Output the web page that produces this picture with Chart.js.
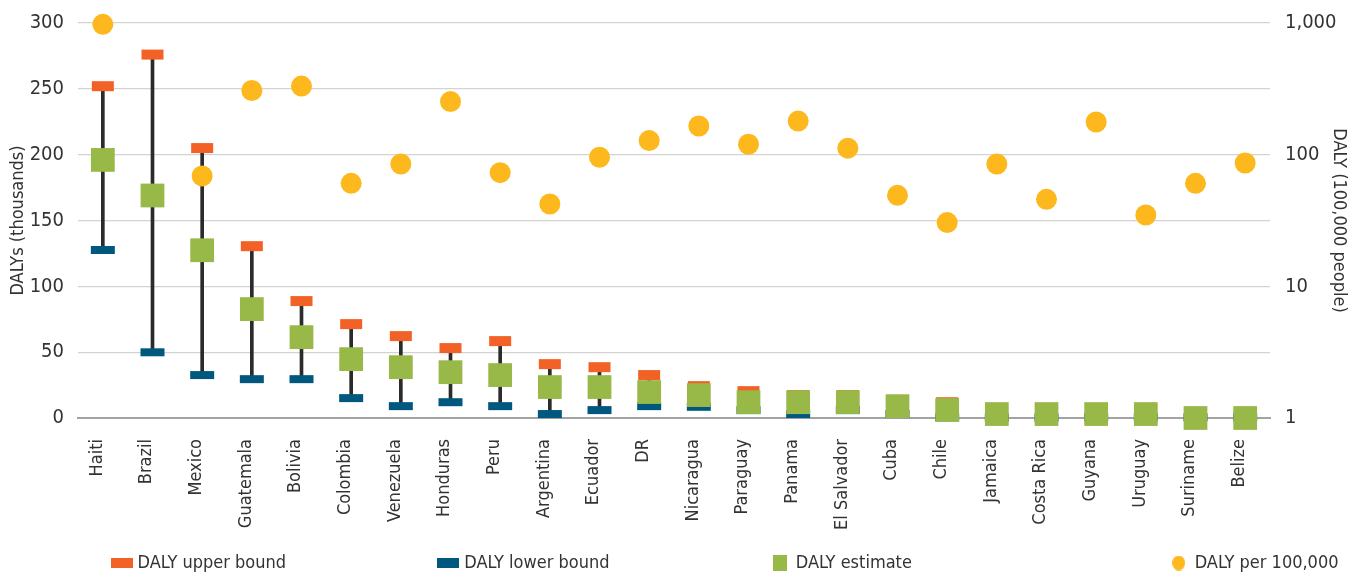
<!DOCTYPE html>
<html>
<head>
<meta charset="utf-8">
<script src="https://cdn.jsdelivr.net/npm/chart.js@4.4.1/dist/chart.umd.min.js"></script>
<style>
  html, body { margin: 0; padding: 0; background: #fff; }
  #wrap { width: 1357px; height: 577px; }
</style>
</head>
<body>
<div id="wrap"><canvas id="chart"></canvas></div>
<script>
// data
const countries = ['Haiti', 'Brazil', 'Mexico', 'Guatemala', 'Bolivia', 'Colombia', 'Venezuela', 'Honduras',
    'Peru', 'Argentina', 'Ecuador', 'DR', 'Nicaragua', 'Paraguay', 'Panama', 'El Salvador', 'Cuba', 'Chile',
    'Jamaica', 'Costa Rica', 'Guyana', 'Uruguay', 'Suriname', 'Belize'];
const upperBound = [252, 276, 205, 130.5, 88.8, 71.3, 62.2, 53.1, 58.4, 40.9, 38.6, 32.6, 24.2, 20.4, 17.4,
    17.4, 12.2, 12, 6.4, 6, 2, 2, 1, 1];
const estimate = [196, 169, 127.4, 82.7, 61.4, 44.7, 38.6, 34.8, 32.6, 23.5, 23.5, 19.7, 17.4, 12, 12, 12,
    9, 6.1, 3, 3, 3, 3, 0, 0];
const lowerBound = [127.6, 49.9, 32.6, 29.5, 29.5, 15.1, 9, 12, 9, 3, 6, 9, 8.5, 6, 3, 6, 3, 0.5, 0.3, 0.3,
    0.5, 0.5, 0.5, 0.5];
const per100k = [977, null, 69, 307, 332, 60.6, 85, 253, 73, 42.2, 95.5, 128, 165, 120, 180, 112, 49.1, 30.5,
    85, 45.8, 177, 34.8, 60.6, 86.5];
const leftTicks = [0, 50, 100, 150, 200, 250, 300];
const rightTicks = [1, 10, 100, 1000];

const ORANGE = '#F26125';
const BLUE = '#00587F';
const GREEN = '#98B848';
const YELLOW = '#FDB81E';
const TEXT = '#333333';
const NARROW = '"DejaVu Sans Condensed", "Liberation Sans Narrow", "Roboto", sans-serif';

// small canvases used as legend glyphs
function glyph(w, h, color, round) {
    const c = document.createElement('canvas');
    c.width = w; c.height = h;
    const g = c.getContext('2d');
    g.fillStyle = color;
    if (round) {
        g.beginPath();
        g.ellipse(w / 2, h / 2, w / 2, h / 2, 0, 0, Math.PI * 2);
        g.fill();
    } else {
        g.fillRect(0, 0, w, h);
    }
    return c;
}
const legendIcons = [glyph(22, 10, ORANGE), glyph(22, 10, BLUE), glyph(14, 16, GREEN), glyph(13, 15, YELLOW, true)];

// pad legend texts (hair spaces) so the items sit where they do in the original
const legendTextWidths = [299, 304, 371, 158];
const mctx = document.createElement('canvas').getContext('2d');
mctx.font = '18px ' + NARROW;
function padText(t, w) {
    while (mctx.measureText(t).width < w) t += '\u200A';
    return t;
}

// y axes: fixed width, no extra room asked for the end labels
function fixWidth(w) {
    return s => {
        s.width = w;
        s.paddingTop = 0;
        s.paddingBottom = 0;
    };
}

new Chart(document.getElementById('chart'), {
    type: 'bar',
    data: {
        labels: countries,
        datasets: [
            {
                type: 'line', label: 'DALY upper bound', data: upperBound, yAxisID: 'y',
                showLine: false, pointStyle: 'line', pointRadius: 11, pointBorderWidth: 10,
                pointBorderColor: ORANGE, pointBackgroundColor: ORANGE, borderColor: ORANGE, clip: false, order: 4
            },
            {
                type: 'line', label: 'DALY lower bound', data: lowerBound, yAxisID: 'y',
                showLine: false, pointStyle: 'line', pointRadius: 12, pointBorderWidth: 8,
                pointBorderColor: BLUE, pointBackgroundColor: BLUE, borderColor: BLUE, clip: false, order: 3
            },
            {
                type: 'line', label: 'DALY estimate', data: estimate, yAxisID: 'y',
                showLine: false, pointStyle: 'rect', pointRadius: 16.8, pointBorderWidth: 0,
                pointBackgroundColor: GREEN, borderColor: GREEN, clip: false, order: 2
            },
            {
                type: 'line', label: 'DALY per 100,000', data: per100k, yAxisID: 'y2',
                showLine: false, pointStyle: 'circle', pointRadius: 10.5, pointBorderWidth: 0,
                pointBackgroundColor: YELLOW, borderColor: YELLOW, clip: false, order: 1
            },
            {
                type: 'bar', label: 'range', data: lowerBound.map((l, i) => [l, upperBound[i]]), yAxisID: 'y',
                backgroundColor: '#2b2b2b', barThickness: 3, order: 5
            }
        ]
    },
    options: {
        responsive: true,
        maintainAspectRatio: false,
        animation: false,
        events: [],
        layout: { padding: { top: 23, bottom: 0, left: 0, right: 0 } },
        plugins: {
            tooltip: { enabled: false },
            legend: {
                position: 'bottom',
                align: 'end',
                maxHeight: 27,
                labels: {
                    usePointStyle: true,
                    pointStyleWidth: 14,
                    padding: 4,
                    color: TEXT,
                    font: { family: NARROW, size: 18 },
                    generateLabels: chart => chart.data.datasets.slice(0, 4).map((ds, i) => ({
                        text: padText(ds.label, legendTextWidths[i]),
                        pointStyle: legendIcons[i],
                        fillStyle: ds.pointBackgroundColor,
                        strokeStyle: ds.pointBackgroundColor,
                        lineWidth: 0,
                        hidden: false,
                        fontColor: TEXT,
                        datasetIndex: i
                    }))
                }
            }
        },
        scales: {
            x: {
                grid: { display: false },
                border: { display: true, color: '#a3a3a3', width: 2 },
                ticks: {
                    autoSkip: false, minRotation: 90, maxRotation: 90, padding: 13, labelOffset: -6,
                    color: TEXT, font: { family: NARROW, size: 18 }
                },
                afterFit: s => { s.height = 132; }
            },
            y: {
                position: 'left',
                min: 0, max: 300,
                grid: { color: '#d3d3d3', lineWidth: 1.3, drawTicks: false },
                border: { display: false },
                ticks: {
                    stepSize: 50, padding: 14, color: TEXT, font: { family: NARROW, size: 20 }
                },
                afterBuildTicks: s => { s.ticks = leftTicks.map(v => ({ value: v })); },
                title: {
                    display: true, text: 'DALYs (thousands)', color: TEXT,
                    font: { family: NARROW, size: 18 }, padding: { top: 8, bottom: 0 }
                },
                afterFit: fixWidth(78)
            },
            y2: {
                type: 'logarithmic',
                position: 'right',
                min: 1, max: 1000,
                grid: { display: false, drawOnChartArea: false },
                border: { display: false },
                ticks: {
                    padding: 7, color: TEXT, font: { family: NARROW, size: 20 },
                    callback: v => v.toLocaleString('en-US')
                },
                afterBuildTicks: s => { s.ticks = rightTicks.map(v => ({ value: v })); },
                title: {
                    display: true, text: 'DALY (100,000 people)', color: TEXT,
                    font: { family: NARROW, size: 18 }, padding: { top: 8, bottom: 0 }
                },
                afterFit: fixWidth(87)
            }
        }
    }
});
</script>
</body>
</html>
